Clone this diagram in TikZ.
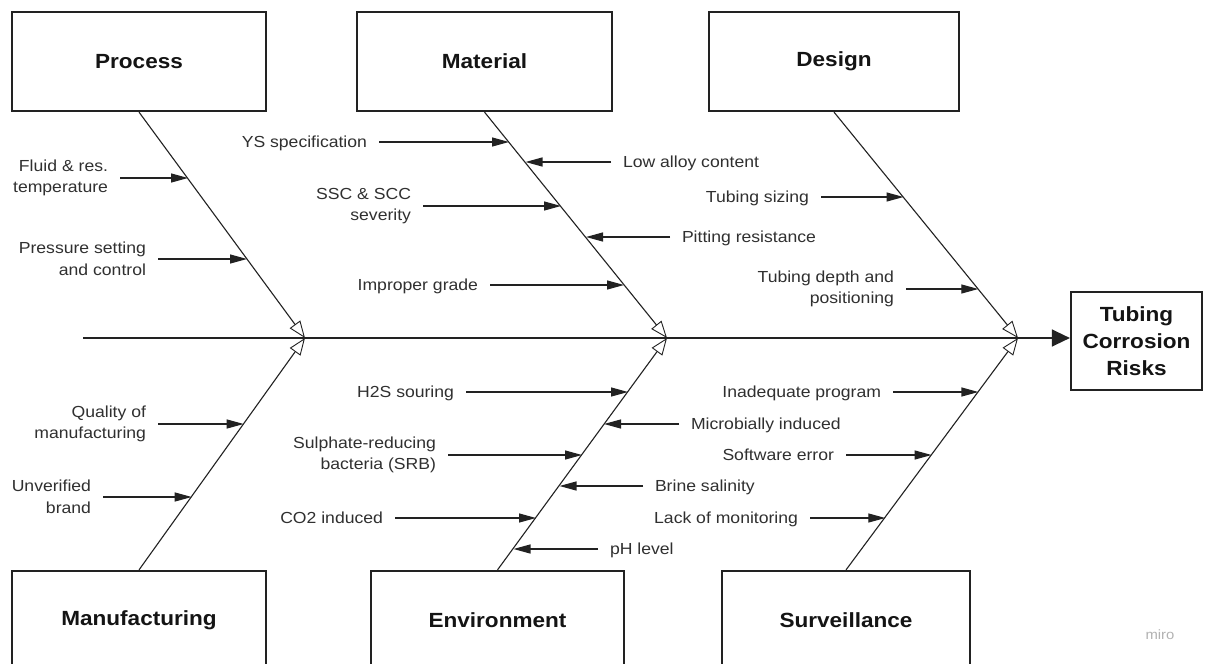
\documentclass[tikz,border=0pt]{standalone}
\usepackage{fontspec}
\setmainfont{Liberation Sans}[FakeStretch=1.1]
\usetikzlibrary{arrows.meta}
\definecolor{ink}{HTML}{222222}
\definecolor{labc}{HTML}{303030}
\begin{document}
\begin{tikzpicture}[x=1pt,y=-1pt,
  cat/.style={draw=ink, line width=2.2pt, minimum height=99pt, inner sep=0pt,
              font=\fontsize{20.5}{26.7}\selectfont\bfseries, text=black!92},
  lab/.style={font=\fontsize{16}{21.7}\selectfont, text=labc, inner xsep=0pt, inner ysep=0pt, outer xsep=12pt},
  labL/.style={lab, anchor=east, align=right},
  labR/.style={lab, anchor=west, align=left},
  one/.style={text height=11.5pt, text depth=0pt},
  sub/.style={draw=ink, line width=1.2pt, -{Triangle[length=17pt,width=9pt]}},
  rib/.style={draw=ink, line width=1.1pt, -{Triangle[length=17pt,width=13pt,fill=white,line width=0.9pt]}},
  spine/.style={draw=ink, line width=1.3pt, -{Triangle[length=18pt,width=17pt]}}
]
\clip (0,0) rectangle (1213,664);
\fill[white] (0,0) rectangle (1213,664);

% category boxes
\node[cat, minimum width=254pt] (proc) at (139,61.5) {Process};
\node[cat, minimum width=255pt] (mat) at (484.5,61.5) {Material};
\node[cat, minimum width=250pt] (des) at (834,61.5) {Design};
\node[cat, minimum width=254pt] (man) at (139,620.5) {Manufacturing};
\node[cat, minimum width=253pt] (env) at (497.5,620.5) {Environment};
\node[cat, minimum width=248pt] (sur) at (846,620.5) {Surveillance};
\node[cat, minimum width=131pt, minimum height=98pt, align=center] (tcr) at (1136.5,341) {Tubing\\Corrosion\\Risks};

% spine
\coordinate (s0) at (83,338);
\coordinate (j1) at (305,338);
\coordinate (j2) at (667,338);
\coordinate (j3) at (1018,338);
\draw[spine] (s0) -- (s0 -| tcr.west);

% ribs
\draw[rib] (proc.south) -- (j1);
\draw[rib] (man.north) -- (j1);
\draw[rib] (mat.south) -- (j2);
\draw[rib] (env.north) -- (j2);
\draw[rib] (des.south) -- (j3);
\draw[rib] (sur.north) -- (j3);

% Process causes
\node[labL] (p1) at (120,178) {Fluid \& res.\\temperature};
\coordinate (p1t) at (188,178);
\draw[sub] (p1.east) -- (p1t);
\node[labL] (p2) at (158,259) {Pressure setting\\and control};
\coordinate (p2t) at (247,259);
\draw[sub] (p2.east) -- (p2t);

% Material causes
\node[labL, one] (m1) at (379,142) {YS specification};
\coordinate (m1t) at (509,142);
\draw[sub] (m1.east) -- (m1t);
\node[labR, one] (m2) at (611,162) {Low alloy content};
\coordinate (m2t) at (525.5,162);
\draw[sub] (m2.west) -- (m2t);
\node[labL] (m3) at (423,206) {SSC \& SCC\\severity};
\coordinate (m3t) at (561,206);
\draw[sub] (m3.east) -- (m3t);
\node[labR, one] (m4) at (670,237) {Pitting resistance};
\coordinate (m4t) at (586,237);
\draw[sub] (m4.west) -- (m4t);
\node[labL, one] (m5) at (490,285) {Improper grade};
\coordinate (m5t) at (624,285);
\draw[sub] (m5.east) -- (m5t);

% Design causes
\node[labL, one] (d1) at (821,197) {Tubing sizing};
\coordinate (d1t) at (903.5,197);
\draw[sub] (d1.east) -- (d1t);
\node[labL] (d2) at (906,289) {Tubing depth and\\positioning};
\coordinate (d2t) at (978.3,289);
\draw[sub] (d2.east) -- (d2t);

% Manufacturing causes
\node[labL] (f1) at (158,424) {Quality of\\manufacturing};
\coordinate (f1t) at (243.7,424);
\draw[sub] (f1.east) -- (f1t);
\node[labL] (f2) at (103,497) {Unverified\\brand};
\coordinate (f2t) at (191.7,497);
\draw[sub] (f2.east) -- (f2t);

% Environment causes
\node[labL, one] (e1) at (466,392) {H2S souring};
\coordinate (e1t) at (628,392);
\draw[sub] (e1.east) -- (e1t);
\node[labR, one] (e2) at (679,424) {Microbially induced};
\coordinate (e2t) at (604,424);
\draw[sub] (e2.west) -- (e2t);
\node[labL] (e3) at (448,455) {Sulphate-reducing\\bacteria (SRB)};
\coordinate (e3t) at (582,455);
\draw[sub] (e3.east) -- (e3t);
\node[labR, one] (e4) at (643,486) {Brine salinity};
\coordinate (e4t) at (559.5,486);
\draw[sub] (e4.west) -- (e4t);
\node[labL, one] (e5) at (395,518) {CO2 induced};
\coordinate (e5t) at (536,518);
\draw[sub] (e5.east) -- (e5t);
\node[labR, one] (e6) at (598,549) {pH level};
\coordinate (e6t) at (513.5,549);
\draw[sub] (e6.west) -- (e6t);

% Surveillance causes
\node[labL, one] (v1) at (893,392) {Inadequate program};
\coordinate (v1t) at (978.4,392);
\draw[sub] (v1.east) -- (v1t);
\node[labL, one] (v2) at (846,455) {Software error};
\coordinate (v2t) at (931.6,455);
\draw[sub] (v2.east) -- (v2t);
\node[labL, one] (v3) at (810,518) {Lack of monitoring};
\coordinate (v3t) at (885.3,518);
\draw[sub] (v3.east) -- (v3t);

% watermark
\node[text=black!30, font=\fontsize{13.5}{15}\selectfont] (miro) at (1160,635) {miro};
\end{tikzpicture}
\end{document}
